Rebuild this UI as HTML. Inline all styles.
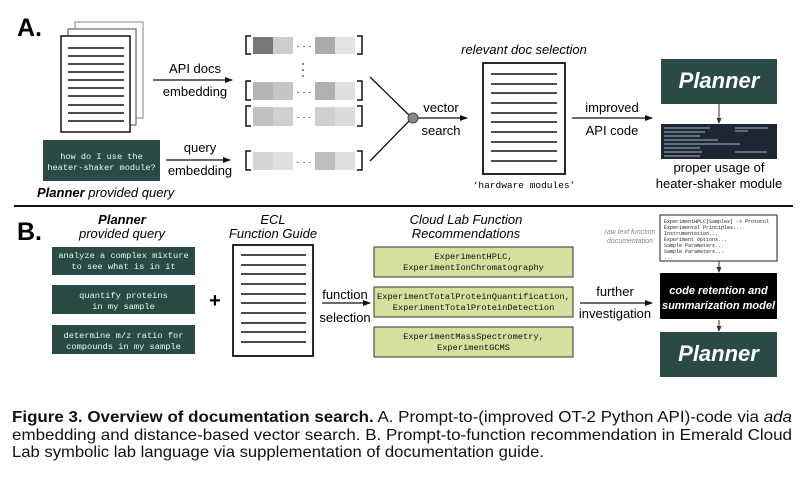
<!DOCTYPE html>
<html><head><meta charset="utf-8"><style>
html,body{margin:0;padding:0;background:#fff;}
svg{display:block;}
text{font-family:"Liberation Sans",sans-serif;}
text.m,.m text{font-family:"Liberation Mono",monospace;}
</style></head><body>
<svg width="812" height="480" viewBox="0 0 812 480" xmlns="http://www.w3.org/2000/svg">
<defs>
<marker id="ah" markerWidth="8" markerHeight="8" refX="7" refY="4" orient="auto" markerUnits="userSpaceOnUse"><path d="M0,1 L8,4 L0,7 z" fill="#111"/></marker>
<marker id="ahs" markerWidth="6" markerHeight="6" refX="5" refY="3" orient="auto" markerUnits="userSpaceOnUse"><path d="M0,0.5 L6,3 L0,5.5 z" fill="#333"/></marker>
</defs>
<!-- A -->
<text x="17" y="36" font-size="25" font-weight="bold">A.</text>
<rect x="75" y="22" width="68" height="96" fill="#fff" stroke="#999" stroke-width="1.2"/>
<rect x="68" y="29" width="68" height="96" fill="#fff" stroke="#666" stroke-width="1.2"/>
<rect x="61" y="36" width="69" height="96" fill="#fff" stroke="#111" stroke-width="1.5"/>
<g stroke="#111" stroke-width="1.5">
<line x1="68" y1="48" x2="124" y2="48"/><line x1="68" y1="56" x2="124" y2="56"/><line x1="68" y1="64" x2="124" y2="64"/><line x1="68" y1="72" x2="124" y2="72"/><line x1="68" y1="80" x2="124" y2="80"/><line x1="68" y1="88" x2="124" y2="88"/><line x1="68" y1="96" x2="124" y2="96"/><line x1="68" y1="105" x2="124" y2="105"/><line x1="68" y1="113" x2="124" y2="113"/><line x1="68" y1="121" x2="124" y2="121"/>
</g>
<line x1="153" y1="80" x2="232" y2="80" stroke="#111" stroke-width="1.3" marker-end="url(#ah)"/>
<text x="195" y="73" font-size="13" text-anchor="middle">API docs</text>
<text x="195" y="96" font-size="13" text-anchor="middle">embedding</text>
<g stroke="#111" stroke-width="1.5" fill="none">
<path d="M251,36 h-5 v18 h5 M357,36 h5 v18 h-5"/>
<path d="M251,81 h-5 v19 h5 M357,81 h5 v19 h-5"/>
<path d="M251,106 h-5 v20 h5 M357,106 h5 v20 h-5"/>
<path d="M251,151 h-5 v19 h5 M357,151 h5 v19 h-5"/>
</g>
<rect x="253" y="37" width="20" height="17" fill="#777"/><rect x="273" y="37" width="20" height="17" fill="#ccc"/><rect x="315" y="37" width="20" height="17" fill="#aaa"/><rect x="335" y="37" width="20" height="17" fill="#e3e3e3"/>
<rect x="253" y="82" width="20" height="18" fill="#b5b5b5"/><rect x="273" y="82" width="20" height="18" fill="#c5c5c5"/><rect x="315" y="82" width="20" height="18" fill="#b0b0b0"/><rect x="335" y="82" width="20" height="18" fill="#e0e0e0"/>
<rect x="253" y="107" width="20" height="19" fill="#c0c0c0"/><rect x="273" y="107" width="20" height="19" fill="#d0d0d0"/><rect x="315" y="107" width="20" height="19" fill="#d0d0d0"/><rect x="335" y="107" width="20" height="19" fill="#dcdcdc"/>
<rect x="253" y="152" width="20" height="18" fill="#d5d5d5"/><rect x="273" y="152" width="20" height="18" fill="#e0e0e0"/><rect x="315" y="152" width="20" height="18" fill="#bdbdbd"/><rect x="335" y="152" width="20" height="18" fill="#e0e0e0"/>
<g font-size="10" text-anchor="middle"><text x="304" y="49">· · ·</text><text x="304" y="95">· · ·</text><text x="304" y="120">· · ·</text><text x="304" y="165">· · ·</text></g>
<g fill="#333"><circle cx="303" cy="64" r="0.9"/><circle cx="303" cy="70" r="0.9"/><circle cx="303" cy="76" r="0.9"/></g>
<rect x="43" y="140" width="117" height="41" fill="#2b4a45"/>
<text x="101.5" y="159" font-size="8.6" fill="#dfe" text-anchor="middle" class="m">how do I use the</text>
<text x="101.5" y="170" font-size="8.6" fill="#dfe" text-anchor="middle" class="m">heater-shaker module?</text>
<line x1="166" y1="160" x2="230" y2="160" stroke="#111" stroke-width="1.3" marker-end="url(#ah)"/>
<text x="200" y="152" font-size="13" text-anchor="middle">query</text>
<text x="200" y="175" font-size="13" text-anchor="middle">embedding</text>
<text x="37" y="197" font-size="13" font-style="italic"><tspan font-weight="bold">Planner</tspan> provided query</text>
<line x1="370" y1="77" x2="412" y2="118" stroke="#111" stroke-width="1.3"/>
<line x1="370" y1="161" x2="412" y2="118" stroke="#111" stroke-width="1.3"/>
<line x1="412" y1="118" x2="467" y2="118" stroke="#111" stroke-width="1.3" marker-end="url(#ah)"/>
<circle cx="413" cy="118" r="5" fill="#888" stroke="#444"/>
<text x="441" y="112" font-size="13" text-anchor="middle">vector</text>
<text x="441" y="135" font-size="13" text-anchor="middle">search</text>
<text x="524" y="54" font-size="13" font-style="italic" text-anchor="middle">relevant doc selection</text>
<rect x="483" y="63" width="82" height="111" fill="#fff" stroke="#111" stroke-width="1.8"/>
<g stroke="#111" stroke-width="1.5">
<line x1="491" y1="74" x2="557" y2="74"/><line x1="491" y1="84" x2="557" y2="84"/><line x1="491" y1="93" x2="557" y2="93"/><line x1="491" y1="103" x2="557" y2="103"/><line x1="491" y1="113" x2="557" y2="113"/><line x1="491" y1="122" x2="557" y2="122"/><line x1="491" y1="132" x2="557" y2="132"/><line x1="491" y1="142" x2="557" y2="142"/><line x1="491" y1="151" x2="557" y2="151"/><line x1="491" y1="161" x2="557" y2="161"/>
</g>
<text x="524" y="188" font-size="9.5" text-anchor="middle" class="m">‘hardware modules’</text>
<line x1="572" y1="118" x2="652" y2="118" stroke="#111" stroke-width="1.3" marker-end="url(#ah)"/>
<text x="612" y="112" font-size="13" text-anchor="middle">improved</text>
<text x="612" y="135" font-size="13" text-anchor="middle">API code</text>
<rect x="661" y="59" width="116" height="45" fill="#2b4a45"/>
<text x="719" y="88" font-size="22" font-weight="bold" font-style="italic" fill="#fff" text-anchor="middle">Planner</text>
<line x1="719" y1="104" x2="719" y2="123" stroke="#333" stroke-width="1" marker-end="url(#ahs)"/>
<rect x="661" y="124" width="116" height="35" fill="#1f2633"/>
<g stroke="#8a9ab0" stroke-width="1.2">
<line x1="664" y1="128" x2="710" y2="128"/><line x1="664" y1="132" x2="705" y2="132"/><line x1="664" y1="136" x2="700" y2="136"/><line x1="664" y1="140" x2="718" y2="140"/><line x1="664" y1="144" x2="740" y2="144"/><line x1="664" y1="148" x2="700" y2="148"/><line x1="664" y1="152" x2="702" y2="152"/><line x1="664" y1="156" x2="700" y2="156"/>
<line x1="735" y1="128" x2="768" y2="128"/><line x1="735" y1="131" x2="748" y2="131"/><line x1="735" y1="152" x2="767" y2="152"/>
</g>
<text x="719" y="172" font-size="13" text-anchor="middle">proper usage of</text>
<text x="719" y="188" font-size="13" text-anchor="middle">heater-shaker module</text>
<line x1="14" y1="206" x2="793" y2="206" stroke="#111" stroke-width="2"/>
<!-- B -->
<text x="17" y="240" font-size="25" font-weight="bold">B.</text>
<text x="122" y="224" font-size="13" font-weight="bold" font-style="italic" text-anchor="middle">Planner</text>
<text x="122" y="238" font-size="13" font-style="italic" text-anchor="middle">provided query</text>
<g class="m" font-size="8.7" fill="#dfe" text-anchor="middle">
<rect x="52" y="247" width="143" height="28" fill="#2b4a45"/>
<text x="123.5" y="258">analyze a complex mixture</text><text x="123.5" y="269">to see what is in it</text>
<rect x="52" y="285" width="143" height="29" fill="#2b4a45"/>
<text x="123.5" y="298">quantify proteins</text><text x="123.5" y="309">in my sample</text>
<rect x="52" y="325" width="143" height="29" fill="#2b4a45"/>
<text x="123.5" y="338">determine m/z ratio for</text><text x="123.5" y="349">compounds in my sample</text>
</g>
<text x="215" y="307" font-size="20" font-weight="bold" text-anchor="middle">+</text>
<text x="273" y="224" font-size="13" font-style="italic" text-anchor="middle">ECL</text>
<text x="273" y="238" font-size="13" font-style="italic" text-anchor="middle">Function Guide</text>
<rect x="233" y="245" width="80" height="111" fill="#fff" stroke="#111" stroke-width="1.8"/>
<g stroke="#111" stroke-width="1.5">
<line x1="241" y1="255" x2="306" y2="255"/><line x1="241" y1="265" x2="306" y2="265"/><line x1="241" y1="274" x2="306" y2="274"/><line x1="241" y1="284" x2="306" y2="284"/><line x1="241" y1="294" x2="306" y2="294"/><line x1="241" y1="303" x2="306" y2="303"/><line x1="241" y1="313" x2="306" y2="313"/><line x1="241" y1="323" x2="306" y2="323"/><line x1="241" y1="332" x2="306" y2="332"/><line x1="241" y1="342" x2="306" y2="342"/>
</g>
<text x="345" y="299" font-size="13" text-anchor="middle">function</text>
<text x="345" y="322" font-size="13" text-anchor="middle">selection</text>
<line x1="322" y1="303" x2="370" y2="303" stroke="#111" stroke-width="1.3" marker-end="url(#ah)"/>
<text x="466" y="224" font-size="13" font-style="italic" text-anchor="middle">Cloud Lab Function</text>
<text x="466" y="238" font-size="13" font-style="italic" text-anchor="middle">Recommendations</text>
<g class="m" font-size="8.7" fill="#111" text-anchor="middle">
<rect x="374" y="247" width="199" height="30" fill="#d5e09e" stroke="#333"/>
<text x="473.5" y="259">ExperimentHPLC,</text><text x="473.5" y="270">ExperimentIonChromatography</text>
<rect x="374" y="287" width="199" height="30" fill="#d5e09e" stroke="#333"/>
<text x="473.5" y="299">ExperimentTotalProteinQuantification,</text><text x="473.5" y="310">ExperimentTotalProteinDetection</text>
<rect x="374" y="327" width="199" height="30" fill="#d5e09e" stroke="#333"/>
<text x="473.5" y="339">ExperimentMassSpectrometry,</text><text x="473.5" y="350">ExperimentGCMS</text>
</g>
<text x="615" y="296" font-size="13" text-anchor="middle">further</text>
<text x="615" y="318" font-size="13" text-anchor="middle">investigation</text>
<line x1="580" y1="303" x2="652" y2="303" stroke="#111" stroke-width="1.3" marker-end="url(#ah)"/>
<text x="630" y="234" font-size="7" font-style="italic" fill="#888" text-anchor="middle">raw text function</text>
<text x="630" y="243" font-size="7" font-style="italic" fill="#888" text-anchor="middle">documentation</text>
<rect x="660" y="215" width="117" height="46" fill="#fff" stroke="#222" stroke-width="1"/>
<g class="m" font-size="5" fill="#222">
<text x="664" y="223">ExperimentHPLC[Samples] -&gt; Protocol</text>
<text x="664" y="229">Experimental Principles...</text>
<text x="664" y="235">Instrumentation...</text>
<text x="664" y="241">Experiment Options...</text>
<text x="664" y="247">Sample Parameters...</text>
<text x="664" y="253">Sample Parameters...</text>
<text x="664" y="259">...</text>
</g>
<line x1="719" y1="261" x2="719" y2="272" stroke="#333" stroke-width="1" marker-end="url(#ahs)"/>
<rect x="660" y="273" width="117" height="46" fill="#000"/>
<text x="718.5" y="294" font-size="11" font-weight="bold" font-style="italic" fill="#fff" text-anchor="middle">code retention and</text>
<text x="718.5" y="309" font-size="11" font-weight="bold" font-style="italic" fill="#fff" text-anchor="middle">summarization model</text>
<line x1="719" y1="320" x2="719" y2="331" stroke="#333" stroke-width="1" marker-end="url(#ahs)"/>
<rect x="660" y="332" width="117" height="45" fill="#2b4a45"/>
<text x="718.5" y="361" font-size="22" font-weight="bold" font-style="italic" fill="#fff" text-anchor="middle">Planner</text>
<!-- caption -->
<g font-size="16" fill="#111">
<text x="12" y="422" textLength="780" lengthAdjust="spacingAndGlyphs"><tspan font-weight="bold">Figure 3. Overview of documentation search.</tspan> A. Prompt-to-(improved OT-2 Python API)-code via <tspan font-style="italic">ada</tspan></text>
<text x="12" y="440" textLength="780" lengthAdjust="spacingAndGlyphs">embedding and distance-based vector search. B. Prompt-to-function recommendation in Emerald Cloud</text>
<text x="12" y="457" textLength="532" lengthAdjust="spacingAndGlyphs">Lab symbolic lab language via supplementation of documentation guide.</text>
</g>
</svg>
</body></html>
